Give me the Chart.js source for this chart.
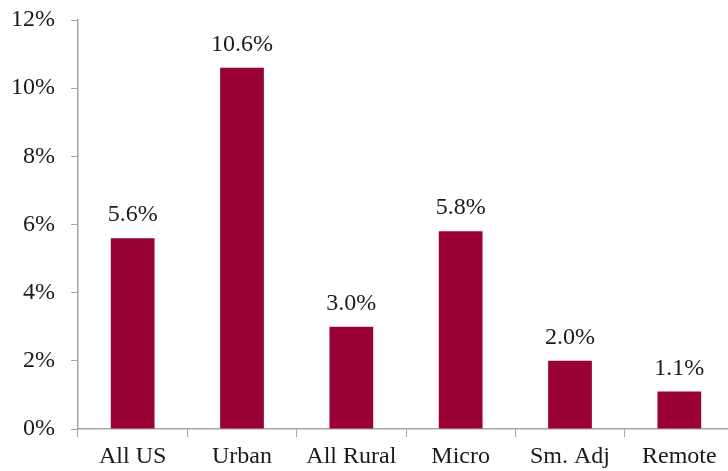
<!DOCTYPE html>
<html>
<head>
<meta charset="utf-8">
<script src="https://cdn.jsdelivr.net/npm/chart.js@4"></script>
<style>
  html, body { margin: 0; padding: 0; overflow: hidden; background: #fff; }
  #wrap { width: 734px; height: 471px; }
</style>
</head>
<body>
<div id="wrap"><canvas id="barChart" width="734" height="471"></canvas></div>
<script>
// 地域別の値 (%)
const categories = ['All US', 'Urban', 'All Rural', 'Micro', 'Sm. Adj', 'Remote'];
const values = [5.6, 10.6, 3.0, 5.8, 2.0, 1.1];
const yTicks = [0, 2, 4, 6, 8, 10, 12];

const FONT = '"Liberation Serif", "DejaVu Serif", serif';

// バーの上に値ラベルを描くプラグイン
const valueLabels = {
    id: 'valueLabels',
    afterDatasetsDraw(chart) {
        const { ctx } = chart;
        const meta = chart.getDatasetMeta(0);
        ctx.save();
        ctx.font = '24px ' + FONT;
        ctx.fillStyle = '#1a1a1a';
        ctx.textAlign = 'center';
        ctx.textBaseline = 'alphabetic';
        meta.data.forEach((bar, i) => {
            ctx.fillText(values[i].toFixed(1) + '%', bar.x, bar.y - 17);
        });
        ctx.restore();
    }
};

new Chart(document.getElementById('barChart'), {
    type: 'bar',
    data: {
        labels: categories,
        datasets: [{
            data: values,
            backgroundColor: '#990033',
            barPercentage: 0.4,
            categoryPercentage: 1.0
        }]
    },
    options: {
        responsive: false,
        animation: false,
        layout: { padding: { top: 20, right: 0, bottom: 0, left: 0 } },
        plugins: {
            legend: { display: false },
            tooltip: { enabled: false }
        },
        scales: {
            x: {
                grid: {
                    offset: true,
                    drawOnChartArea: false,
                    drawTicks: true,
                    tickLength: 8,
                    color: '#a6a6a6'
                },
                border: { color: '#a6a6a6', width: 1.5 },
                ticks: {
                    color: '#1a1a1a',
                    font: { family: FONT, size: 24 },
                    padding: 5,
                    maxRotation: 0
                },
                afterFit(scale) { scale.height = 42; }
            },
            y: {
                min: 0,
                max: 12,
                afterBuildTicks(scale) {
                    scale.ticks = yTicks.map(v => ({ value: v }));
                },
                grid: {
                    drawOnChartArea: false,
                    drawTicks: true,
                    tickLength: 7,
                    color: '#a6a6a6'
                },
                border: { color: '#a6a6a6', width: 1.5 },
                ticks: {
                    color: '#1a1a1a',
                    font: { family: FONT, size: 24 },
                    padding: 16,
                    callback: v => v + '%'
                },
                afterFit(scale) {
                    scale.width = 78;
                    scale.paddingTop = 0;
                    scale.paddingBottom = 0;
                }
            }
        }
    },
    plugins: [valueLabels]
});
</script>
</body>
</html>
